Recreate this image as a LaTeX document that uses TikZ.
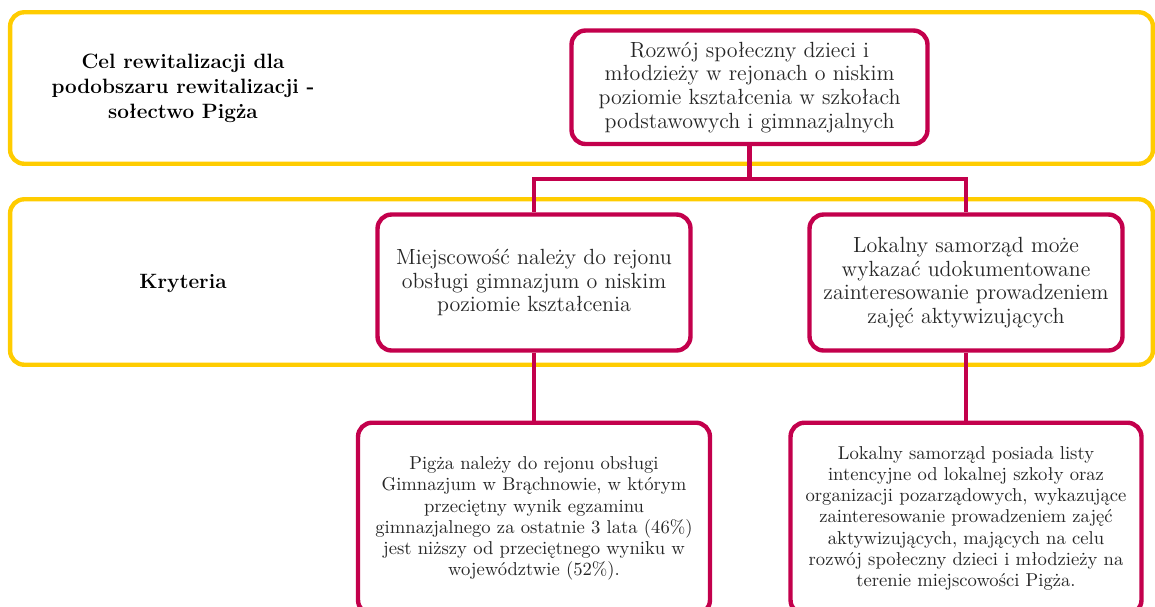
\documentclass[tikz,border=0pt]{standalone}
\usepackage{fontspec}
\usetikzlibrary{positioning}
\definecolor{bandyellow}{HTML}{FFCC00}
\definecolor{boxred}{HTML}{C3004C}
\definecolor{txtgray}{HTML}{262626}
\tikzset{
    band/.style={draw=bandyellow, line width=2.5pt, rounded corners=8pt, minimum width=22.86cm},
    goal/.style={draw=boxred, line width=2.5pt, rounded corners=8pt, fill=white, align=center,
      text=txtgray, font=\fontsize{12.5}{13.5}\selectfont, inner sep=2pt},
    detail/.style={goal, font=\fontsize{10.6}{12}\selectfont},
    link/.style={draw=boxred, line width=2.5pt},
    heading/.style={align=center, font=\bfseries\fontsize{11.8}{14.2}\selectfont},
}

\begin{document}
\begin{tikzpicture}[x=0.02cm, y=-0.02cm]
    \useasboundingbox (0,0) rectangle (1155,606);

    % the two yellow bands
    \node[band, minimum height=3.03cm] (celband) at (581.5,88) {};
    \node[band, minimum height=3.31cm] (kryband) at (581.5,282) {};
    \node[heading] (cel) at (183,88) {Cel rewitalizacji dla\\podobszaru rewitalizacji -\\sołectwo Pigża};
    \node[heading] (kry) at (183,283) {Kryteria};

    % goal and criteria
    \node[goal, minimum width=7.12cm, minimum height=2.27cm] (rozwoj) at (749.5,87.25)
      {Rozwój społeczny dzieci i\\młodzieży w rejonach o niskim\\poziomie kształcenia w szkołach\\podstawowych i gimnazjalnych};
    \node[goal, minimum width=6.26cm, minimum height=2.72cm] (miejsc) at (534,282.5)
      {Miejscowość należy do rejonu\\obsługi gimnazjum o niskim\\poziomie kształcenia};
    \node[goal, minimum width=6.26cm, minimum height=2.72cm] (samorzad) at (966,282.5)
      {Lokalny samorząd może\\wykazać udokumentowane\\zainteresowanie prowadzeniem\\zajęć aktywizujących};

    % evidence
    \node[detail, anchor=north, minimum width=7.04cm, minimum height=3.83cm] (pigza) at (534,420.5)
      {Pigża należy do rejonu obsługi\\Gimnazjum w Brąchnowie, w którym\\przeciętny wynik egzaminu\\gimnazjalnego za ostatnie 3 lata (46\%)\\jest niższy od przeciętnego wyniku w\\województwie (52\%).};
    \node[detail, anchor=north, minimum width=7.02cm, minimum height=3.83cm] (listy) at (966,420.5)
      {Lokalny samorząd posiada listy\\intencyjne od lokalnej szkoły oraz\\organizacji pozarządowych, wykazujące\\zainteresowanie prowadzeniem zajęć\\aktywizujących, mających na celu\\rozwój społeczny dzieci i młodzieży na\\terenie miejscowości Pigża.};

    \coordinate (fork) at (749.5,179);
    \draw[link] (rozwoj) -- (fork) -| (miejsc);
    \draw[link] (fork) -| (samorzad);
    \draw[link] (miejsc) -- (pigza);
    \draw[link] (samorzad) -- (listy);
\end{tikzpicture}
\end{document}
